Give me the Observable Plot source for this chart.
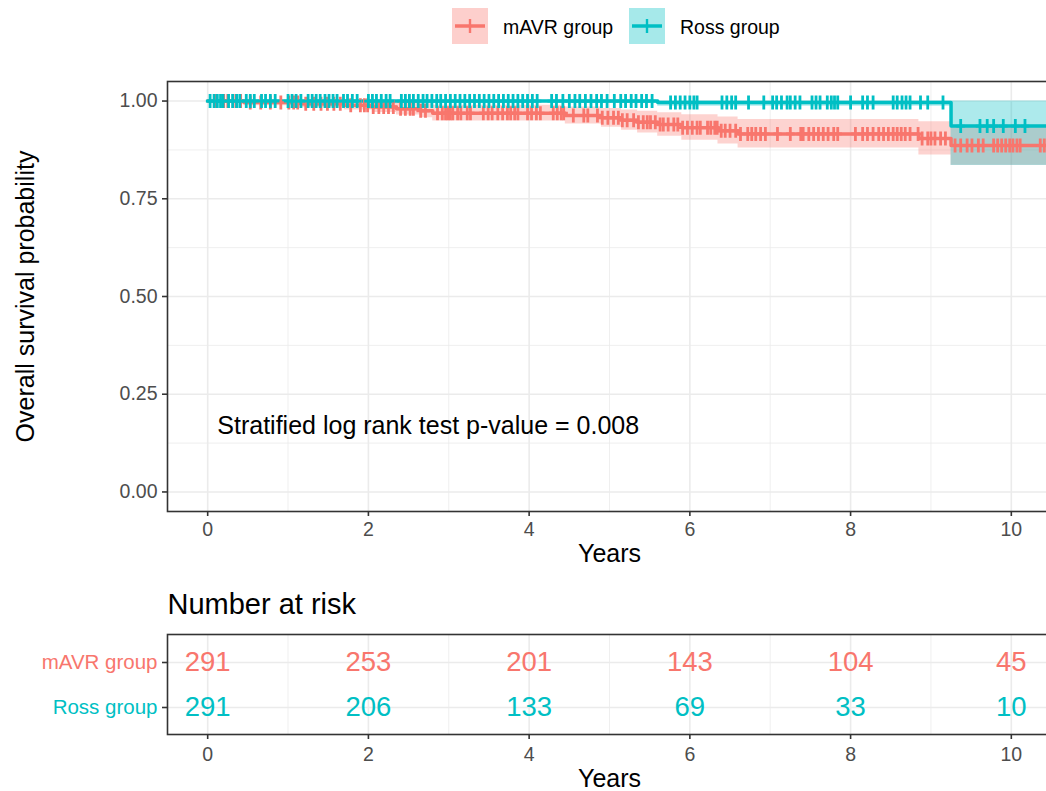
<!DOCTYPE html>
<html><head><meta charset="utf-8">
<script src="https://cdn.jsdelivr.net/npm/d3@7"></script>
<script src="https://cdn.jsdelivr.net/npm/@observablehq/plot@0.6"></script>
<style>
html,body{margin:0;padding:0;overflow:hidden;background:#fff;width:1046px;height:791px;}
body{position:relative;font-family:"Liberation Sans",Arial,Helvetica,sans-serif;}
#main,#risk,#legend{position:absolute;left:0;width:1060px;}
#main{top:0;} #risk{top:580px;} #legend{top:0;}
#main svg,#risk svg{max-width:none !important;}
.key{position:absolute;top:8px;width:36px;height:36px;}
.lab{position:absolute;top:16px;font-size:19.5px;color:#000;white-space:nowrap;}
</style></head><body>
<div id="main"></div>
<div id="risk"></div>
<div id="legend"></div>
<script>
// ---------- data ----------
const groups = ["mAVR group", "Ross group"];
const colors = ["#F8766D", "#00BFC4"];
const xTicks = [0, 2, 4, 6, 8, 10];
const xMinor = [1, 3, 5, 7, 9];
const yTicks = [0, 0.25, 0.5, 0.75, 1];
const yMinor = [0.125, 0.375, 0.625, 0.875];

// Kaplan-Meier steps (event times), survival and confidence limits
const mavrTime  = [0, 0.45, 1.15, 1.7, 2.05, 2.35, 2.65, 2.8, 4.45, 4.9, 5.15, 5.35, 5.6, 5.9, 6.35, 6.6, 8.85, 9.25];
const mavrSurv  = [1, 0.996, 0.993, 0.989, 0.985, 0.980, 0.975, 0.969, 0.963, 0.957, 0.951, 0.946, 0.940, 0.932, 0.924, 0.916, 0.904, 0.886];
const mavrLower = [1, 0.988, 0.983, 0.977, 0.971, 0.964, 0.957, 0.949, 0.941, 0.933, 0.925, 0.918, 0.910, 0.900, 0.890, 0.880, 0.862, 0.836];
const mavrUpper = [1, 1, 1, 1, 0.999, 0.996, 0.993, 0.989, 0.985, 0.981, 0.977, 0.974, 0.970, 0.965, 0.959, 0.953, 0.947, 0.938];
const rossTime  = [0, 5.6, 9.25];
const rossSurv  = [1, 0.996, 0.936];
const rossLower = [1, 0.987, 0.835];
const rossUpper = [1, 1, 1];
const lastFollowUp = [10.5, 10.5];

// censoring times (years)
const mavrCensor = [0.10,0.20,0.25,0.35,0.41,0.53,0.66,0.78,0.91,1.01,1.07,1.12,1.22,1.32,1.41,1.49,1.57,1.65,1.78,1.90,1.95,1.99,2.06,2.13,2.19,2.25,2.31,2.40,2.46,2.52,2.56,2.65,2.71,2.86,2.92,2.96,2.99,3.02,3.05,3.11,3.15,3.23,3.27,3.43,3.49,3.54,3.61,3.67,3.73,3.77,3.82,3.86,3.98,4.03,4.09,4.14,4.30,4.35,4.40,4.43,4.55,4.68,4.73,4.85,4.91,4.98,5.05,5.11,5.16,5.22,5.30,5.36,5.42,5.47,5.51,5.57,5.63,5.67,5.73,5.80,5.85,5.91,5.97,6.03,6.09,6.13,6.22,6.26,6.31,6.34,6.39,6.44,6.50,6.57,6.63,6.72,6.77,6.82,6.88,6.94,7.09,7.25,7.38,7.41,7.48,7.54,7.60,7.66,7.72,7.79,7.84,8.06,8.15,8.21,8.28,8.35,8.41,8.47,8.53,8.58,8.63,8.68,8.74,8.84,8.89,8.96,9.00,9.05,9.12,9.18,9.30,9.37,9.45,9.51,9.59,9.65,9.78,9.83,9.88,9.93,9.98,10.02,10.07,10.11,10.36,10.41];
const rossCensor = [0.03,0.08,0.12,0.16,0.19,0.26,0.31,0.36,0.40,0.48,0.53,0.58,0.67,0.72,0.78,0.84,1.0,1.05,1.1,1.16,1.25,1.3,1.35,1.4,1.46,1.51,1.56,1.61,1.69,1.74,1.8,1.86,2.0,2.05,2.1,2.16,2.22,2.27,2.41,2.46,2.51,2.56,2.62,2.68,2.73,2.79,2.85,2.9,2.96,3.02,3.08,3.14,3.2,3.26,3.32,3.38,3.44,3.5,3.56,3.62,3.68,3.74,3.8,3.86,3.92,3.98,4.04,4.1,4.28,4.34,4.42,4.5,4.57,4.63,4.7,4.77,4.84,4.9,4.97,5.06,5.14,5.2,5.27,5.33,5.4,5.46,5.53,5.76,5.82,5.88,5.94,6.0,6.05,6.09,6.4,6.46,6.52,6.57,6.73,6.92,7.03,7.08,7.14,7.21,7.25,7.31,7.37,7.52,7.57,7.62,7.71,7.76,7.8,7.84,8.0,8.15,8.21,8.28,8.53,8.58,8.64,8.69,8.74,8.87,8.96,9.15,9.37,9.61,9.7,9.78,9.9,10.05,10.17];

// number at risk
const riskTimes = [0, 2, 4, 6, 8, 10];
const mavrRisk = [291, 253, 201, 143, 104, 45];
const rossRisk = [291, 206, 133, 69, 33, 10];

const pText = "Stratified log rank test p-value = 0.008";
const yTitle = "Overall survival probability";
const xTitle = "Years";
const riskTitle = "Number at risk";

// ---------- build tables ----------
const series = [
  {group: groups[0], time: mavrTime, surv: mavrSurv, lower: mavrLower, upper: mavrUpper, censor: mavrCensor, end: lastFollowUp[0]},
  {group: groups[1], time: rossTime, surv: rossSurv, lower: rossLower, upper: rossUpper, censor: rossCensor, end: lastFollowUp[1]}
];
const steps = [], censors = [];
for (const s of series) {
  s.time.forEach((t, i) => steps.push({group: s.group, time: t, surv: s.surv[i], lower: s.lower[i], upper: s.upper[i]}));
  const k = s.time.length - 1;
  steps.push({group: s.group, time: s.end, surv: s.surv[k], lower: s.lower[k], upper: s.upper[k]});
  for (const c of s.censor) {
    const i = d3.bisectRight(s.time, c) - 1;
    censors.push({group: s.group, time: c, surv: s.surv[i]});
  }
}
const risk = [];
riskTimes.forEach((t, i) => {
  risk.push({group: groups[0], time: t, n: mavrRisk[i]});
  risk.push({group: groups[1], time: t, n: rossRisk[i]});
});

const plusSym = {draw(ctx, size) {
  const r = Math.sqrt(size / Math.PI);
  ctx.moveTo(0, -r); ctx.lineTo(0, r);
  ctx.moveTo(-r * 0.6, 0); ctx.lineTo(r * 0.6, 0);
}};

const colorScale = {domain: groups, range: colors};
const font = `"Liberation Sans", Arial, sans-serif`;
const tickStyle = {stroke: "#333", strokeWidth: 1.6, fill: "#4D4D4D", fontSize: 19.5, tickSize: 5};
const svgStyle = {fontFamily: font, background: "transparent", overflow: "visible", maxWidth: "none"};

// ---------- main plot ----------
const main = Plot.plot({
  width: 1060, height: 570,
  marginLeft: 167, marginRight: 9, marginTop: 81, marginBottom: 59,
  style: svgStyle,
  x: {domain: [-0.5, 10.5]},
  y: {domain: [-0.05, 1.05]},
  color: colorScale,
  marks: [
    Plot.gridX(xMinor, {stroke: "#EBEBEB", strokeOpacity: 1, strokeWidth: 0.8}),
    Plot.gridY(yMinor, {stroke: "#EBEBEB", strokeOpacity: 1, strokeWidth: 0.8}),
    Plot.gridX(xTicks, {stroke: "#EBEBEB", strokeOpacity: 1, strokeWidth: 1.6}),
    Plot.gridY(yTicks, {stroke: "#EBEBEB", strokeOpacity: 1, strokeWidth: 1.6}),
    Plot.areaY(steps, {x: "time", y1: "lower", y2: "upper", z: "group", fill: "group", fillOpacity: 0.32, curve: "step-after", clip: true}),
    Plot.line(steps, {x: "time", y: "surv", z: "group", stroke: "group", strokeWidth: 3.5, curve: "step-after", clip: true}),
    Plot.dot(censors, {x: "time", y: "surv", stroke: "group", symbol: plusSym, r: 7, strokeWidth: 2.8, clip: true}),
    Plot.text([pText], {x: 0.12, y: 0.17, textAnchor: "start", fontSize: 25, fill: "#000"}),
    Plot.frame({stroke: "#333", strokeWidth: 1.6}),
    Plot.axisX(xTicks, {...tickStyle, tickPadding: 6, label: null}),
    Plot.axisY(yTicks, {...tickStyle, tickPadding: 5, tickFormat: d3.format(".2f"), label: null}),
    Plot.text([yTitle], {frameAnchor: "left", dx: -142, rotate: -90, textAnchor: "middle", fontSize: 25, fill: "#000"}),
    Plot.text([xTitle], {frameAnchor: "bottom", dy: 42, textAnchor: "middle", lineAnchor: "middle", fontSize: 25, fill: "#000"})
  ]
});
document.getElementById("main").append(main);

// ---------- risk table ----------
const riskPlot = Plot.plot({
  width: 1060, height: 211,
  marginLeft: 167, marginRight: 9, marginTop: 54, marginBottom: 57,
  style: svgStyle,
  x: {domain: [-0.5, 10.5]},
  y: {type: "point", domain: groups, padding: 0.6},
  color: colorScale,
  marks: [
    Plot.gridX(xMinor, {stroke: "#EBEBEB", strokeOpacity: 1, strokeWidth: 0.8}),
    Plot.gridX(xTicks, {stroke: "#EBEBEB", strokeOpacity: 1, strokeWidth: 1.6}),
    Plot.gridY(groups, {stroke: "#EBEBEB", strokeOpacity: 1, strokeWidth: 1.6}),
    Plot.text(risk, {x: "time", y: "group", text: d => String(d.n), fill: "group", fontSize: 27.5}),
    Plot.frame({stroke: "#333", strokeWidth: 1.6}),
    Plot.axisX(xTicks, {...tickStyle, tickPadding: 8, label: null}),
    Plot.axisY(groups, {...tickStyle, fontSize: 20.5, fill: d => d, tickPadding: 5, label: null}),
    Plot.text([riskTitle], {frameAnchor: "top-left", dy: -30, textAnchor: "start", lineAnchor: "middle", fontSize: 29, fill: "#000"}),
    Plot.text([xTitle], {frameAnchor: "bottom", dy: 44, textAnchor: "middle", lineAnchor: "middle", fontSize: 25, fill: "#000"})
  ]
});
document.getElementById("risk").append(riskPlot);

// ---------- legend ----------
const legend = document.getElementById("legend");
const keyX = [452, 629];
groups.forEach((g, i) => {
  const key = document.createElement("div");
  key.className = "key";
  key.style.left = keyX[i] + "px";
  key.innerHTML = `<svg width="36" height="36"><rect width="36" height="36" fill="${colors[i]}" fill-opacity="0.35"/>` +
    `<line x1="3" x2="33" y1="18" y2="18" stroke="${colors[i]}" stroke-width="3.5"/>` +
    `<line x1="18" x2="18" y1="11" y2="25" stroke="${colors[i]}" stroke-width="2.4"/></svg>`;
  legend.append(key);
  const lab = document.createElement("div");
  lab.className = "lab";
  lab.style.left = (keyX[i] + 51) + "px";
  lab.textContent = g;
  legend.append(lab);
});
</script>
</body></html>
